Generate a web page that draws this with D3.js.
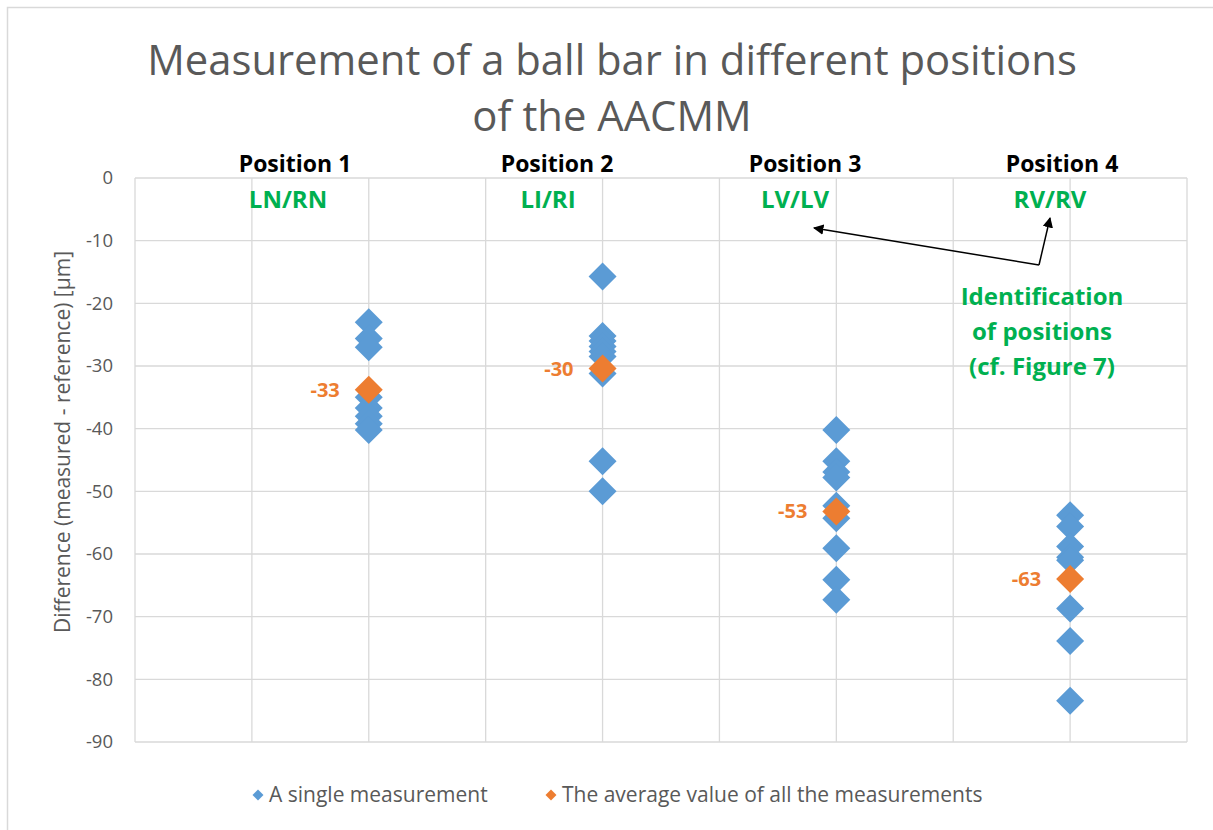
<!DOCTYPE html>
<html>
<head>
<meta charset="UTF-8">
<style>
  body { margin: 0; background: #fff; }
  svg text { font-family: "Open Sans", "Noto Sans", sans-serif; }
</style>
</head>
<body>
<svg></svg>
<script src="https://d3js.org/d3.v7.min.js"></script>
<script>
let width = 1213, height = 830;
let svg = d3.select("svg").attr("width", width).attr("height", height);

// data
let positionNames = ["Position 1", "Position 2", "Position 3", "Position 4"];
let positionCodes = ["LN/RN", "LI/RI", "LV/LV", "RV/RV"];
let positionX = [2, 4, 6, 8];
let pos1 = [-23, -25.6, -27, -35, -36.7, -38, -39.2, -40.2];
let pos2 = [-15.7, -25.2, -26, -26.9, -27.7, -28.5, -31.2, -45.2, -50];
let pos3 = [-40.2, -45.2, -46.9, -47.8, -52.3, -54.3, -59.1, -64.1, -67.3];
let pos4 = [-53.8, -55.6, -58.8, -60.5, -61, -68.7, -73.9, -83.4];
let averages = [-33.8, -30.4, -53.2, -64];
let avgLabels = ["-33", "-30", "-53", "-63"];
let yTicks = [0, -10, -20, -30, -40, -50, -60, -70, -80, -90];
let xGrid = [0, 1, 2, 3, 4, 5, 6, 7, 8, 9];

let blue = "#5b9bd5", orange = "#ed7d31", green = "#00b050", gray = "#595959";

// chart border
svg.append("rect").attr("x", 7.5).attr("y", 7.5).attr("width", 1240).attr("height", 900)
  .attr("fill", "none").attr("stroke", "#d9d9d9").attr("stroke-width", 1.5);

let x = d3.scaleLinear().domain([0, 9]).range([135, 1187]);
let y = d3.scaleLinear().domain([-90, 0]).range([742, 178]);

// grid
svg.append("g").selectAll("line").data(yTicks).enter().append("line")
  .attr("x1", x(0)).attr("x2", x(9)).attr("y1", d => y(d)).attr("y2", d => y(d))
  .attr("stroke", "#d9d9d9").attr("stroke-width", 1.3);
svg.append("g").selectAll("line").data(xGrid).enter().append("line")
  .attr("y1", y(0)).attr("y2", y(-90)).attr("x1", d => x(d)).attr("x2", d => x(d))
  .attr("stroke", "#d9d9d9").attr("stroke-width", 1.3);

// y axis labels (plain hyphen, like the original)
let yAxis = svg.append("g").attr("transform", "translate(" + x(0) + ",0)")
  .call(d3.axisLeft(y).tickValues(yTicks).tickSize(0).tickPadding(22).tickFormat(d => String(d)));
yAxis.select(".domain").remove();
yAxis.selectAll("text").style("font-size", "18.5px").attr("fill", gray)
  .style("font-family", "'Open Sans', sans-serif");

svg.append("text").attr("transform", "translate(63,442) rotate(-90)")
  .attr("text-anchor", "middle").attr("dy", "0.35em")
  .style("font-size", "21px").attr("fill", gray)
  .text("Difference (measured - reference) [µm]");

// title
svg.append("text").attr("x", 612).attr("y", 75).attr("text-anchor", "middle")
  .style("font-size", "41.8px").attr("fill", gray)
  .text("Measurement of a ball bar in different positions");
svg.append("text").attr("x", 612).attr("y", 131).attr("text-anchor", "middle")
  .style("font-size", "41.8px").attr("fill", gray)
  .text("of the AACMM");

// position headings
let headX = [295, 557, 805, 1062];
let codeX = [288, 548, 795, 1050];
svg.append("g").selectAll("text").data(positionNames).enter().append("text")
  .attr("x", (d, i) => headX[i]).attr("y", 172).attr("text-anchor", "middle")
  .style("font-size", "23px").style("font-weight", "bold").attr("fill", "#000")
  .text(d => d);
svg.append("g").selectAll("text").data(positionCodes).enter().append("text")
  .attr("x", (d, i) => codeX[i]).attr("y", 208).attr("text-anchor", "middle")
  .style("font-size", "24px").style("font-weight", "bold").attr("fill", green)
  .text(d => d);

// identification note with arrows
let note = ["Identification", "of positions", "(cf. Figure 7)"];
svg.append("g").selectAll("text").data(note).enter().append("text")
  .attr("x", 1042).attr("y", (d, i) => 305 + i * 35).attr("text-anchor", "middle")
  .style("font-size", "24px").style("font-weight", "bold").attr("fill", green)
  .text(d => d);

svg.append("defs").append("marker").attr("id", "arrow")
  .attr("viewBox", "0 0 10 10").attr("refX", 9).attr("refY", 5)
  .attr("markerWidth", 7).attr("markerHeight", 7).attr("orient", "auto")
  .append("path").attr("d", "M0,0 L10,5 L0,10 Z").attr("fill", "#000");
svg.append("line").attr("x1", 1039).attr("y1", 265).attr("x2", 814).attr("y2", 228)
  .attr("stroke", "#000").attr("stroke-width", 1.5).attr("marker-end", "url(#arrow)");
svg.append("line").attr("x1", 1039).attr("y1", 265).attr("x2", 1050).attr("y2", 218)
  .attr("stroke", "#000").attr("stroke-width", 1.5).attr("marker-end", "url(#arrow)");

// points
let diamond = d3.symbol().type(d3.symbolSquare).size(392);
let singles = [];
[pos1, pos2, pos3, pos4].forEach((arr, i) => arr.forEach(v => singles.push({ x: positionX[i], v: v })));
svg.append("g").selectAll("path").data(singles).enter().append("path")
  .attr("d", diamond)
  .attr("transform", d => "translate(" + x(d.x) + "," + y(d.v) + ") rotate(45)")
  .attr("fill", blue);

svg.append("g").selectAll("path").data(averages).enter().append("path")
  .attr("d", diamond)
  .attr("transform", (d, i) => "translate(" + x(positionX[i]) + "," + y(d) + ") rotate(45)")
  .attr("fill", orange);

svg.append("g").selectAll("text").data(averages).enter().append("text")
  .attr("x", (d, i) => x(positionX[i]) - 29).attr("y", d => y(d)).attr("dy", "0.35em")
  .attr("text-anchor", "end")
  .style("font-size", "20px").style("font-weight", "bold").attr("fill", orange)
  .text((d, i) => avgLabels[i]);

// legend
let legend = [
  { label: "A single measurement", color: blue, x: 258 },
  { label: "The average value of all the measurements", color: orange, x: 551 }
];
let small = d3.symbol().type(d3.symbolSquare).size(60);
let lg = svg.append("g").selectAll("g").data(legend).enter().append("g")
  .attr("transform", d => "translate(" + d.x + ",795)");
lg.append("path").attr("d", small).attr("transform", "rotate(45)").attr("fill", d => d.color);
lg.append("text").attr("x", 11).attr("dy", "0.35em").style("font-size", "21px")
  .attr("fill", gray).text(d => d.label);
</script>
</body>
</html>
